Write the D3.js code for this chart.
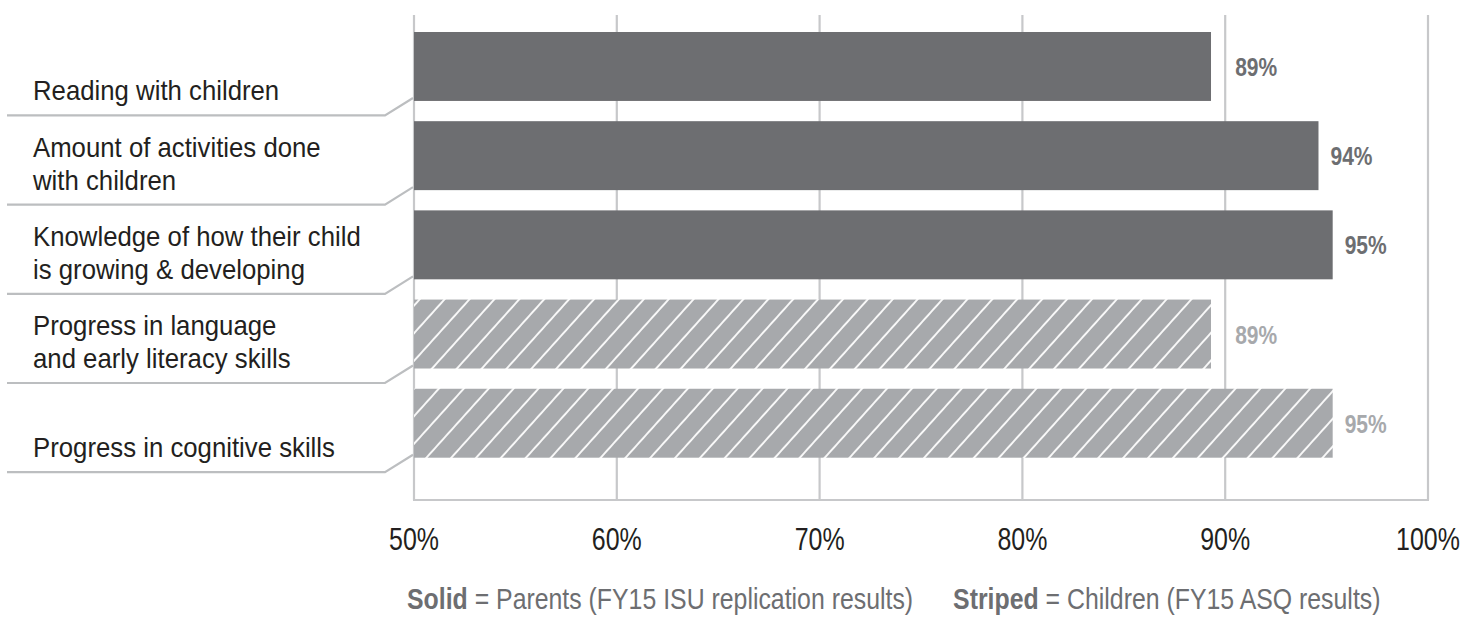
<!DOCTYPE html>
<html>
<head>
<meta charset="utf-8">
<script src="https://cdn.jsdelivr.net/npm/d3@7"></script>
<style>
  html, body { margin: 0; padding: 0; background: #ffffff; }
  svg { display: block; }
  .cond { font-family: "Liberation Sans", Arial, "Roboto", sans-serif; }
</style>
</head>
<body>
<svg id="chart" width="1464" height="618"></svg>
<script>
// ---- data ----
const categories = [
  ["Reading with children"],
  ["Amount of activities done", "with children"],
  ["Knowledge of how their child", "is growing & developing"],
  ["Progress in language", "and early literacy skills"],
  ["Progress in cognitive skills"]
];
const values = [89.3, 94.6, 95.3, 89.3, 95.3];
const valueLabels = ["89%", "94%", "95%", "89%", "95%"];
const series = ["solid", "solid", "solid", "striped", "striped"];
const tickValues = [50, 60, 70, 80, 90, 100];
const tickLabels = ["50%", "60%", "70%", "80%", "90%", "100%"];
const legendItems = [
  { bold: "Solid", rest: " = Parents (FY15 ISU replication results)" },
  { bold: "Striped", rest: " = Children (FY15 ASQ results)" }
];

// ---- styles ----
const C = {
  solid: "#6d6e71",
  striped: "#a7a9ac",
  grid: "#c7c8ca",
  leader: "#bcbec0",
  text: "#231f20",
  legend: "#6d6e71"
};
// horizontal condensing factors (to mimic a condensed gothic face)
const SX = { cat: 0.92, tick: 0.78, value: 0.84, legend: 0.857 };

const svg = d3.select("#chart");
const x = d3.scaleLinear().domain([50, 100]).range([414, 1428]);
const y = d3.scaleBand().domain(d3.range(categories.length)).range([32, 457.7]).paddingInner(0.227).paddingOuter(0);
const gridTop = 15, gridBottom = 500;
const place = (px, py, sx) => `translate(${px},${py}) scale(${sx},1)`;

// stripe pattern
const defs = svg.append("defs");
const pat = defs.append("pattern")
  .attr("id", "stripes")
  .attr("patternUnits", "userSpaceOnUse")
  .attr("width", 18.5).attr("height", 40)
  .attr("patternTransform", "translate(414,0) rotate(42)");
pat.append("rect").attr("width", 18.5).attr("height", 40).attr("fill", C.striped);
pat.append("line").attr("x1", 1).attr("x2", 1).attr("y1", 0).attr("y2", 40)
  .attr("stroke", "#ffffff").attr("stroke-width", 1.8);

// gridlines
svg.append("g").selectAll("line").data(tickValues).join("line")
  .attr("x1", d => x(d)).attr("x2", d => x(d))
  .attr("y1", gridTop).attr("y2", gridBottom)
  .attr("stroke", C.grid).attr("stroke-width", 2.2);
svg.append("line")
  .attr("x1", x(50) - 1).attr("x2", x(100) + 1)
  .attr("y1", gridBottom).attr("y2", gridBottom)
  .attr("stroke", C.grid).attr("stroke-width", 2.2);

// tick labels
svg.append("g").selectAll("text").data(tickValues).join("text")
  .attr("class", "cond")
  .attr("transform", d => place(x(d), 550, SX.tick))
  .attr("text-anchor", "middle")
  .attr("font-size", 32).attr("fill", C.text)
  .text((d, i) => tickLabels[i]);

// bars
svg.append("g").selectAll("rect").data(values).join("rect")
  .attr("x", x(50))
  .attr("y", (d, i) => y(i))
  .attr("width", d => x(d) - x(50))
  .attr("height", y.bandwidth())
  .attr("fill", (d, i) => series[i] === "solid" ? C.solid : "url(#stripes)");

// leader lines
svg.append("g").selectAll("path").data(values).join("path")
  .attr("d", (d, i) => {
    const b = y(i) + y.bandwidth();
    return `M7,${b + 14.5} L385,${b + 14.5} L${x(50) - 1},${b - 3}`;
  })
  .attr("fill", "none").attr("stroke", C.leader).attr("stroke-width", 2.2);

// category labels
const lineH = 33;
const catG = svg.append("g");
categories.forEach((lines, i) => {
  const base = y(i) + y.bandwidth() + 14.5 - 15;
  const t = catG.append("text").attr("class", "cond")
    .attr("transform", place(33, base, SX.cat))
    .attr("font-size", 28).attr("fill", C.text);
  lines.forEach((ln, j) => {
    t.append("tspan").attr("x", 0)
      .attr("y", -(lines.length - 1 - j) * lineH)
      .text(ln);
  });
});

// value labels
const valG = svg.append("g");
values.forEach((v, i) => {
  let lx = x(v) + 12;
  const cy = y(i) + y.bandwidth() / 2;
  const t = valG.append("text").attr("class", "cond")
    .attr("font-size", 25).attr("font-weight", "bold")
    .attr("fill", series[i] === "solid" ? C.solid : C.striped)
    .attr("dy", "0.38em")
    .text(valueLabels[i]);
  const w = t.node().getComputedTextLength() * SX.value;
  tickValues.forEach(tv => {
    const gx = x(tv);
    if (gx > lx - 6 && gx < lx + w + 4) lx = gx + 10;
  });
  t.attr("transform", place(lx, cy, SX.value));
});

// legend
let lgx = 407;
legendItems.forEach(item => {
  const t = svg.append("text").attr("class", "cond")
    .attr("transform", place(lgx, 609, SX.legend))
    .attr("font-size", 29).attr("fill", C.legend);
  t.append("tspan").attr("font-weight", "bold").text(item.bold);
  t.append("tspan").text(item.rest);
  lgx += t.node().getComputedTextLength() * SX.legend + 40;
});
</script>
</body>
</html>
